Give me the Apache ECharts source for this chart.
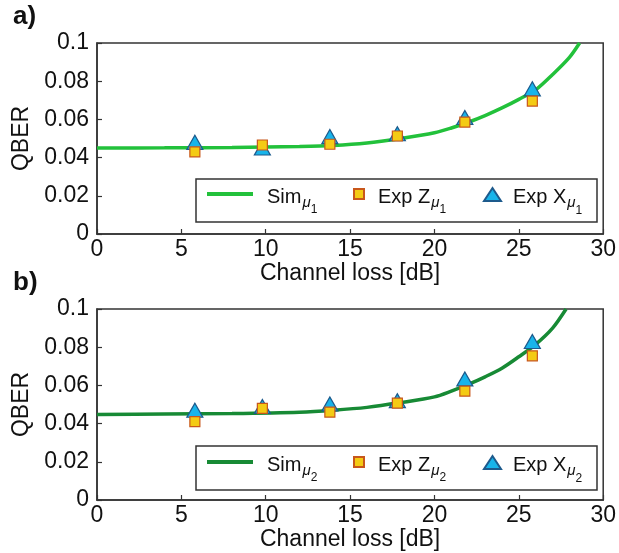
<!DOCTYPE html>
<html>
<head>
<meta charset="utf-8">
<script src="https://cdn.jsdelivr.net/npm/echarts@6/dist/echarts.min.js"></script>
<style>
html, body { margin: 0; padding: 0; background: #fff; }
#chart { width: 619px; height: 553px; }
</style>
</head>
<body>
<div id="chart"></div>
<script>
// measured channel loss of the experiment points [dB]
var lossPoints = [5.8, 9.8, 13.8, 17.8, 21.8, 25.8];

// panel a) mu1
var expZ1 = [0.043, 0.0466, 0.047, 0.0513, 0.0586, 0.0696];
var expX1 = [0.048, 0.045, 0.051, 0.0525, 0.061, 0.076];
var simLoss1 = [0, 4, 8, 12, 14, 16, 18, 20, 21, 22, 23, 24, 25, 26, 27, 28, 28.6];
var simQber1 = [0.0450, 0.0451, 0.0453, 0.0458, 0.0463, 0.0476, 0.0500, 0.0530, 0.0555, 0.0585, 0.0620, 0.0660, 0.0705, 0.0755, 0.0835, 0.0925, 0.1];

// panel b) mu2
var expZ2 = [0.041, 0.048, 0.046, 0.0507, 0.057, 0.0755];
var expX2 = [0.047, 0.049, 0.0503, 0.052, 0.0634, 0.083];
var simLoss2 = [0, 4, 8, 12, 14, 16, 18, 20, 21, 22, 23, 24, 25, 26, 27, 27.8];
var simQber2 = [0.0448, 0.0450, 0.0453, 0.0460, 0.0470, 0.0485, 0.0510, 0.0540, 0.0570, 0.0605, 0.0645, 0.0690, 0.0750, 0.0815, 0.0900, 0.1];

var FONT = 'Liberation Sans, Arial, sans-serif';
var SQ_FILL = '#f4cb14', SQ_EDGE = '#c8571b';
var TRI_FILL = '#18b4ea', TRI_EDGE = '#1d5a8c';

function pairs(xs, ys) {
  return xs.map(function (x, i) { return [x, ys[i]]; });
}

var legendText = {
  Sim1: '{n|Sim}{m|μ}{k|1}', ExpZ1: '{n|Exp Z}{m|μ}{k|1}', ExpX1: '{n|Exp X}{m|μ}{k|1}',
  Sim2: '{n|Sim}{m|μ}{k|2}', ExpZ2: '{n|Exp Z}{m|μ}{k|2}', ExpX2: '{n|Exp X}{m|μ}{k|2}'
};

var richStyle = {
  n: { fontSize: 20, lineHeight: 22, verticalAlign: 'top', color: '#111', fontFamily: FONT },
  m: { fontSize: 15, lineHeight: 16, verticalAlign: 'top', padding: [8, 0, 0, 1], color: '#111', fontStyle: 'italic', fontFamily: FONT },
  k: { fontSize: 12, lineHeight: 12, verticalAlign: 'top', padding: [17, 0, 0, 0], color: '#111', fontFamily: FONT }
};

function makeLegends(names, top) {
  function one(name, left, icon, w, h, padL) {
    return {
      data: [{ name: name, icon: icon }],
      left: left, top: top, padding: 0,
      itemWidth: w, itemHeight: h,
      formatter: function (n) { return legendText[n]; },
      textStyle: { padding: [8, 0, 0, padL], rich: richStyle }
    };
  }
  return [
    one(names[0], 207, 'rect', 46, 4, 9),
    one(names[1], 353, 'rect', 10, 10, 9),
    one(names[2], 483, 'triangle', 17, 13, 7)
  ];
}

function xAxisFor(gridIndex) {
  return {
    gridIndex: gridIndex, type: 'value', min: 0, max: 30, interval: 5,
    name: 'Channel loss [dB]', nameLocation: 'middle', nameGap: 26,
    nameTextStyle: { fontSize: 23, color: '#111', fontFamily: FONT },
    axisLine: { lineStyle: { color: '#333', width: 1.5 } },
    axisTick: { inside: true, length: 5, lineStyle: { color: '#333', width: 1.2 } },
    axisLabel: { fontSize: 23, color: '#111', margin: 4, fontFamily: FONT },
    splitLine: { show: false }
  };
}

function yAxisFor(gridIndex) {
  return {
    gridIndex: gridIndex, type: 'value', min: 0, max: 0.1, interval: 0.02,
    name: 'QBER', nameLocation: 'middle', nameGap: 64,
    nameTextStyle: { fontSize: 23, color: '#111', fontFamily: FONT },
    axisLine: { lineStyle: { color: '#333', width: 1.5 } },
    axisTick: { inside: true, length: 5, lineStyle: { color: '#333', width: 1.2 } },
    axisLabel: {
      fontSize: 23, color: '#111', margin: 8, fontFamily: FONT,
      formatter: function (v) { return String(parseFloat(v.toFixed(3))); }
    },
    splitLine: { show: false }
  };
}

function seriesFor(idx, names, simColor, simX, simY, zVals, xVals) {
  return [
    {
      name: names[0], type: 'line', xAxisIndex: idx, yAxisIndex: idx,
      data: pairs(simX, simY), smooth: 0.3, symbol: 'none',
      lineStyle: { color: simColor, width: 3.5 }, itemStyle: { color: simColor }, z: 2
    },
    {
      name: names[2], type: 'scatter', xAxisIndex: idx, yAxisIndex: idx,
      data: pairs(lossPoints, xVals), symbol: 'triangle', symbolSize: [16, 14],
      itemStyle: { color: TRI_FILL, borderColor: TRI_EDGE, borderWidth: 1.2, opacity: 1 }, z: 3
    },
    {
      name: names[1], type: 'scatter', xAxisIndex: idx, yAxisIndex: idx,
      data: pairs(lossPoints, zVals), symbol: 'rect', symbolSize: 10,
      itemStyle: { color: SQ_FILL, borderColor: SQ_EDGE, borderWidth: 1.2, opacity: 1 }, z: 4
    }
  ];
}

var names1 = ['Sim1', 'ExpZ1', 'ExpX1'];
var names2 = ['Sim2', 'ExpZ2', 'ExpX2'];

var chart = echarts.init(document.getElementById('chart'));
chart.setOption({
  animation: false,
  backgroundColor: '#fff',
  grid: [
    { left: 97, top: 43, width: 508, height: 191, show: true, borderColor: '#333', borderWidth: 1.5, backgroundColor: 'transparent' },
    { left: 97, top: 309, width: 508, height: 191, show: true, borderColor: '#333', borderWidth: 1.5, backgroundColor: 'transparent' }
  ],
  xAxis: [xAxisFor(0), xAxisFor(1)],
  yAxis: [yAxisFor(0), yAxisFor(1)],
  legend: makeLegends(names1, 187).concat(makeLegends(names2, 455)),
  graphic: [
    { type: 'text', left: 13, top: 4, style: { text: 'a)', fill: '#111', font: 'bold 26px ' + FONT } },
    { type: 'text', left: 13, top: 270, style: { text: 'b)', fill: '#111', font: 'bold 26px ' + FONT } },
    { type: 'rect', shape: { x: 196, y: 179, width: 401, height: 43 }, style: { fill: '#fff', stroke: '#333', lineWidth: 1.5 }, z: 1 },
    { type: 'rect', shape: { x: 196, y: 446, width: 401, height: 44 }, style: { fill: '#fff', stroke: '#333', lineWidth: 1.5 }, z: 1 }
  ],
  series: seriesFor(0, names1, '#22c13b', simLoss1, simQber1, expZ1, expX1)
    .concat(seriesFor(1, names2, '#178a35', simLoss2, simQber2, expZ2, expX2))
});
</script>
</body>
</html>
